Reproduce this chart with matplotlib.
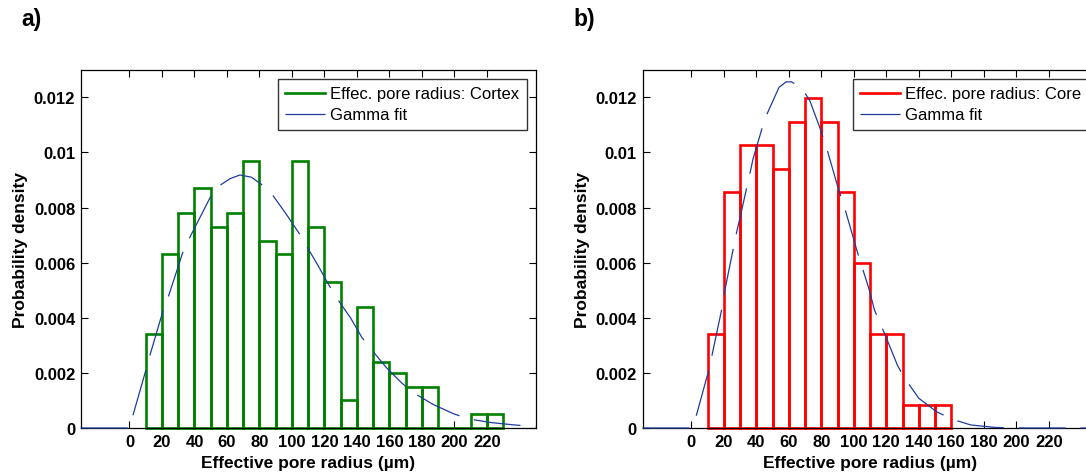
import matplotlib
matplotlib.use("Agg")
import matplotlib.pyplot as plt
import numpy as np

plt.rcParams['font.family'] = ['Liberation Sans', 'DejaVu Sans']

# ---------------- data ----------------
bin_width = 10
cortex_left_edges = [10, 20, 30, 40, 50, 60, 70, 80, 90, 100, 110, 120, 130, 140,
                     150, 160, 170, 180, 190, 200, 210, 220]
cortex_density = [0.0034, 0.0063, 0.0078, 0.0087, 0.0073, 0.0078, 0.0097, 0.0068,
                  0.0063, 0.0097, 0.0073, 0.0053, 0.0010, 0.0044, 0.0024, 0.0020,
                  0.0015, 0.0015, 0.0, 0.0, 0.0005, 0.0005]

core_left_edges = [10, 20, 30, 40, 50, 60, 70, 80, 90, 100, 110, 120, 130, 140, 150]
core_density = [0.0034, 0.00855, 0.01026, 0.01026, 0.0094, 0.0111, 0.01197, 0.0111,
                0.00855, 0.0060, 0.0034, 0.0034, 0.00085, 0.00085, 0.00085]

cortex_fit_x = [-30, 0, 2.4, 10.3, 12.8, 21, 24, 33, 37, 50, 55.6, 62, 68, 75, 81, 88,
                96, 104, 109, 116, 122.6, 128, 136, 143, 149, 158, 167.6, 175, 187,
                199.7, 209, 222, 237, 250]
cortex_fit_y = [0, 0, 0.00051, 0.00214, 0.00268, 0.00432, 0.00478, 0.0064, 0.0069,
                0.0084, 0.0088, 0.00905, 0.00918, 0.00910, 0.00885, 0.00846, 0.0078,
                0.0071, 0.0066, 0.0059, 0.0052, 0.00468, 0.0040, 0.00329, 0.00284,
                0.0022, 0.00163, 0.00127, 0.00085, 0.00051, 0.00033, 0.00020,
                0.00011, 0.00005]

core_fit_x = [-30, 0, 3.2, 10.7, 12.7, 18.7, 20.4, 27.7, 29.8, 35.8, 38, 43.3, 46.6,
              50.5, 54, 58.4, 61.6, 65, 69, 73, 79.4, 83, 90.6, 94, 102, 109.4, 112.7,
              119.5, 127, 132, 140, 151, 160, 172, 187, 205, 225, 250]
core_fit_y = [0, 0, 0.00047, 0.00208, 0.00262, 0.00429, 0.00492, 0.00704, 0.00758,
              0.00915, 0.00976, 0.01082, 0.01139, 0.0119, 0.01236, 0.01256, 0.01256,
              0.01245, 0.01224, 0.01187, 0.01085, 0.01022, 0.00867, 0.00807, 0.00643,
              0.00504, 0.00429, 0.00335, 0.00226, 0.00175, 0.00108, 0.00059, 0.00033,
              0.00011, 0.00002, 0.0, 0.0, 0.0]

x_ticks = [0, 20, 40, 60, 80, 100, 120, 140, 160, 180, 200, 220]
y_ticks = [0, 0.002, 0.004, 0.006, 0.008, 0.010, 0.012]
y_tick_labels = ["0", "0.002", "0.004", "0.006", "0.008", "0.01", "0.012"]

# ---------------- figure ----------------
W, H = 1086, 477
fig = plt.figure(figsize=(W / 100, H / 100), dpi=100)

ax_w = 455 / W
ax_h = 358.3 / H
ax_b = (H - 429) / H
axA = fig.add_axes([80.7 / W, ax_b, ax_w, ax_h])
axB = fig.add_axes([642.5 / W, ax_b, ax_w, ax_h])

fit_color = '#1e3c9e'
fit_lw = 0.9
px2pt = 0.72
dash = (47 * px2pt / fit_lw, 15 * px2pt / fit_lw)

panels = [
    (axA, cortex_left_edges, cortex_density, '#008000', 'Effec. pore radius: Cortex',
     cortex_fit_x, cortex_fit_y, 'a)', 21),
    (axB, core_left_edges, core_density, '#ff0000', 'Effec. pore radius: Core',
     core_fit_x, core_fit_y, 'b)', 573),
]

tick_font = dict(fontsize=12, fontweight='bold')

for ax, edges, dens, col, lab, fx, fy, plab, plx in panels:
    bars = ax.bar(edges, dens, width=bin_width, align='edge', fill=False,
                  edgecolor=col, linewidth=1.9, zorder=2)
    for b in bars:
        b.set_clip_on(False)
    h_line, = ax.plot([], [], color=col, lw=1.9)
    fit_line, = ax.plot(fx, fy, color=fit_color, lw=fit_lw, linestyle=(0, dash),
                        zorder=3, clip_on=False)
    ax.set_xlim(-30, 250)
    ax.set_ylim(0, 0.013)
    ax.set_xticks(x_ticks)
    ax.set_xticklabels([str(t) for t in x_ticks], **tick_font)
    ax.set_yticks(y_ticks)
    ax.set_yticklabels(y_tick_labels, **tick_font)
    ax.tick_params(direction='in', length=5, width=0.8, top=True, right=True,
                   pad=4)
    for s in ax.spines.values():
        s.set_linewidth(0.9)
        s.set_color('black')
    ax.set_xlabel('Effective pore radius (\u00b5m)', fontsize=12.5,
                  fontweight='bold', labelpad=5)
    ax.set_ylabel('Probability density', fontsize=12.5, fontweight='bold',
                  labelpad=4)
    leg = ax.legend([h_line, fit_line], [lab, 'Gamma fit'], loc='upper right',
                    fontsize=12, frameon=True, fancybox=False, shadow=False,
                    handlelength=2.4, handletextpad=0.28, labelspacing=0.36,
                    borderpad=0.45, borderaxespad=0.55)
    leg.get_frame().set_edgecolor('black')
    leg.get_frame().set_linewidth(1.0)
    leg.set_zorder(5)
    fig.text(plx / W, (H - 26) / H, plab, fontsize=16.5, fontweight='bold',
             ha='left', va='baseline')

fig.savefig('out.png', dpi=100)
